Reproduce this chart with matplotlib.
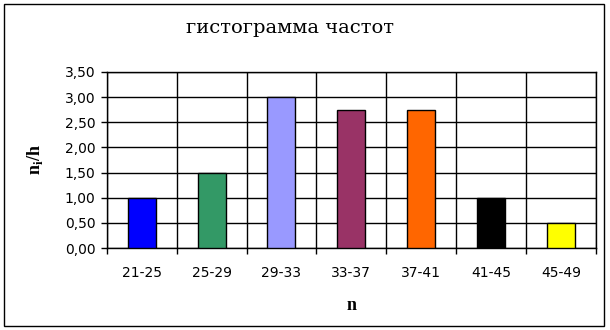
import matplotlib
matplotlib.use("Agg")
import matplotlib.pyplot as plt
from matplotlib.ticker import FixedLocator, FuncFormatter
from matplotlib.patches import Rectangle

categories = ["21-25", "25-29", "29-33", "33-37", "37-41", "41-45", "45-49"]
values = [1.0, 1.5, 3.0, 2.75, 2.75, 1.0, 0.5]
colors = ["#0000FF", "#339966", "#9999FF", "#993366", "#FF6600", "#000000", "#FFFF00"]
yticks = [0, 0.5, 1.0, 1.5, 2.0, 2.5, 3.0, 3.5]

fig = plt.figure(figsize=(6.1, 3.3), dpi=100)
ax = fig.add_axes([0.175, 0.248, 0.802, 0.534])

x = list(range(len(categories)))
ax.bar(x, values, width=0.4, color=colors, edgecolor="black", linewidth=1, zorder=3)

ax.set_xlim(-0.5, len(categories) - 0.5)
ax.set_ylim(0, 3.5)
ax.yaxis.set_major_locator(FixedLocator(yticks))
ax.yaxis.set_major_formatter(FuncFormatter(lambda v, p: f"{v:.2f}".replace(".", ",")))
ax.set_xticks([i - 0.5 for i in range(len(categories) + 1)])
ax.set_xticklabels([])
ax.set_xticks(x, minor=True)
ax.set_xticklabels(categories, minor=True)
ax.tick_params(axis="x", which="minor", length=0, pad=13, labelsize=10)
ax.tick_params(axis="x", which="major", direction="out", length=4, width=1)
ax.tick_params(axis="y", direction="out", length=4, width=1, labelsize=10, pad=4)

ax.grid(True, axis="y", color="black", linewidth=1, zorder=0)
ax.grid(True, axis="x", which="major", color="black", linewidth=1, zorder=0)
for s in ["top", "right", "left", "bottom"]:
    ax.spines[s].set_linewidth(1)

fig.text(290 / 610, 1 - 28 / 330, "гистограмма частот", fontfamily="DejaVu Serif", fontsize=14,
         ha="center", va="center")
serif = "Liberation Serif"
ax.set_xlabel("n", fontfamily=serif, fontsize=13, fontweight="bold", labelpad=12)
ax.set_ylabel(r"n$_\mathregular{i}$/h", fontfamily=serif, fontsize=13, fontweight="bold", labelpad=14)

fig.patches.append(Rectangle((4/610, 4/330), 600/610, 322/330, transform=fig.transFigure,
                             fill=False, edgecolor="black", linewidth=1))

fig.savefig("out.png", dpi=100)
